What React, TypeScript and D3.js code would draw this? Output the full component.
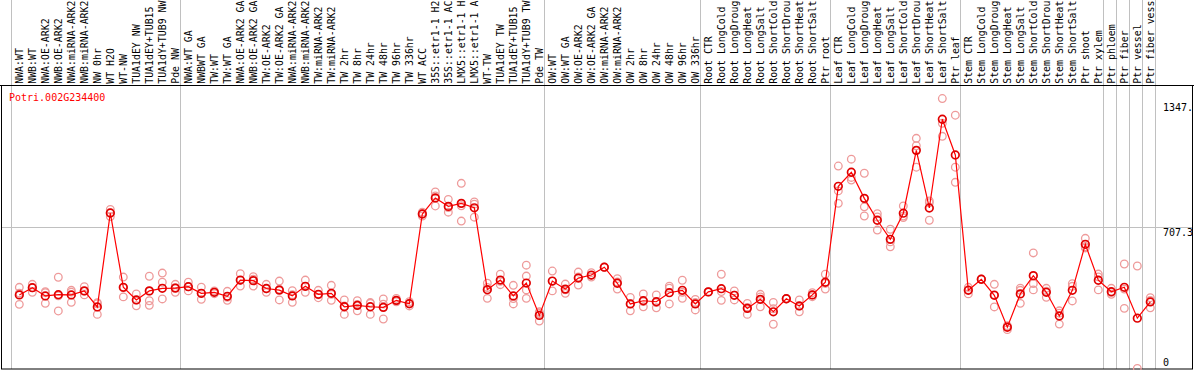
import React from "react";
import * as d3 from "d3";

const title = "Potri.002G234400";

const categories = [
  "NWA:WT", "NWB:WT", "NWA:OE-ARK2", "NWB:OE-ARK2", "NWA:miRNA-ARK2", "NWB:miRNA-ARK2",
  "NW 0hr", "WT H2O", "WT-NW", "TUA1dEY NW", "TUA1dEY+TUB15 NW", "TUA1dY+TUB9 NW", "Pde NW",
  "NWA:WT GA", "NWBWT GA", "TW:WT", "TW:WT GA", "NWA:OE-ARK2 GA", "NWB:OE-ARK2 GA",
  "TW:OE-ARK2", "TW:OE-ARK2 GA", "NWA:miRNA-ARK2 GA", "NWB:miRNA-ARK2 GA", "TW:miRNA-ARK2",
  "TW:miRNA-ARK2 GA", "TW 2hr", "TW 8hr", "TW 24hr", "TW 48hr", "TW 96hr", "TW 336hr", "WT ACC",
  "35S::etr1-1 H2O", "35S::etr1-1 ACC", "LMX5::etr1-1 H2O", "LMX5::etr1-1 ACC", "WT-TW",
  "TUA1dEY TW", "TUA1dEY+TUB15 TW", "TUA1dY+TUB9 TW", "Pde TW",
  "OW:WT", "OW:WT GA", "OW:OE-ARK2", "OW:OE-ARK2 GA", "OW:miRNA-ARK2", "OW:miRNA-ARK2 GA",
  "OW 2hr", "OW 8hr", "OW 24hr", "OW 48hr", "OW 96hr", "OW 336hr",
  "Root CTR", "Root LongCold", "Root LongDrought", "Root LongHeat", "Root LongSalt",
  "Root ShortCold", "Root ShortDrought", "Root ShortHeat", "Root ShortSalt", "Ptr root",
  "Leaf CTR", "Leaf LongCold", "Leaf LongDrought", "Leaf LongHeat", "Leaf LongSalt",
  "Leaf ShortCold", "Leaf ShortDrought", "Leaf ShortHeat", "Leaf ShortSalt", "Ptr leaf",
  "Stem CTR", "Stem LongCold", "Stem LongDrought", "Stem LongHeat", "Stem LongSalt",
  "Stem ShortCold", "Stem ShortDrought", "Stem ShortHeat", "Stem ShortSalt", "Ptr shoot",
  "Ptr xylem", "Ptr phloem", "Ptr fiber", "Ptr vessel", "Ptr fiber vessel",
];

// index of first category of each group (group separators)
const groupStarts = [0, 13, 41, 53, 63, 73, 84, 85, 86, 87, 88];

const means = [
  369, 405, 364, 370, 369, 389, 309, 777, 407, 344, 389, 402, 403,
  410, 377, 382, 362, 443, 440, 401, 393, 364, 412, 372, 377, 310, 317, 310, 307, 342, 325, 772,
  852, 810, 825, 803, 395, 443, 364, 428, 267,
  438, 398, 453, 468, 507, 427, 324, 340, 335, 380, 392, 324,
  384, 400, 367, 302, 347, 285, 350, 314, 369, 432,
  910, 980, 850, 741, 646, 776, 1089, 802, 1244, 1066,
  392, 447, 367, 208, 374, 465, 382, 264, 392, 621, 442,
  385, 407, 253, 334,
];

const rep1 = [
  407, 422, 385, 457, 392, 410, 330, 795, 458, 374, 462, 478, 422,
  432, 408, 389, 387, 475, 460, 422, 438, 390, 443, 392, 417, 344, 340, 327, 349, 352, 335, 781,
  882, 845, 925, 832, 427, 472, 417, 517, 285,
  488, 423, 483, 480, 507, 450, 357, 374, 369, 413, 442, 347,
  384, 472, 389, 327, 372, 332, 350, 344, 380, 472,
  1011, 1045, 975, 774, 696, 812, 1149, 837, 1347.2, 1264,
  407, 447, 422, 216, 403, 578, 402, 290, 425, 651, 473,
  402, 523, 513, 355,
];

const rep2 = [
  322, 382, 327, 289, 332, 369, 272, 759, 359, 315, 317, 432, 382,
  389, 347, 375, 342, 413, 413, 382, 344, 332, 382, 355, 342, 272, 290, 272, 249, 335, 314, 762,
  812, 781, 737, 756, 352, 420, 324, 463, 239,
  389, 377, 418, 458, 507, 398, 290, 310, 305, 324, 352, 294,
  384, 342, 344, 272, 310, 223, 350, 285, 369, 398,
  887, 941, 808, 692, 609, 754, 1112, 741, 1224, 1005,
  374, 447, 309, 196, 327, 425, 357, 224, 339, 609, 394,
  372, 398, 3, 305,
];

const rep3 = [
  378, 405, 380, 364, 383, 388, 325, 777, 404, 343, 388, 349, 405,
  410, 376, 382, 357, 441, 447, 399, 397, 370, 411, 369, 372, 314, 321, 331, 323, 339, 326, 773,
  862, 804, 813, 821, 406, 437, 351, 394, 277,
  437, 394, 458, 466, 507, 433, 325, 336, 331, 403, 382, 331,
  384, 386, 368, 307, 359, 300, 350, 313, 360, 426,
  825, 954, 762, 757, 633, 762, 1005, 828, 1159, 930,
  395, 447, 370, 212, 392, 394, 387, 278, 412, 603, 459,
  381, 302, null, 342,
];

const rep4: (number | null)[] = categories.map((c) =>
  c === "TUA1dEY+TUB15 NW" ? 340 : c === "TUA1dY+TUB9 TW" ? 352 : null
);

const W = 1194;
const H = 370;
const plotLeft = 1.5;
const plotRight = 1192.5;
const plotTop = 85;
const plotBottom = 369;
const colLeft = 11;
const colRight = 1155;
const FONT = "'DejaVu Sans Mono', 'Liberation Mono', monospace";
const LABEL_CHARS = 14;

export default function App() {
  const x = d3.scaleBand<string>().domain(categories).range([colLeft, colRight]).paddingInner(0).paddingOuter(0);
  const bw = x.bandwidth();
  const cx = (c: string) => (x(c) as number) + bw * 0.64;

  const allReps = [...rep1, ...rep2, ...rep3, ...rep4].filter((v) => v != null) as number[];
  const maxVal = d3.max(allReps) as number;
  const yMax = maxVal * 1.05;
  const y = d3.scaleLinear().domain([0, yMax]).range([plotBottom, plotTop]);
  const mid = yMax / 2;

  const line = d3
    .line<number>()
    .x((_, i) => cx(categories[i]))
    .y((d) => y(d));

  const repSets = [rep1, rep2, rep3, rep4];
  const sepXs = groupStarts.map((i) => Math.round(colLeft + i * bw) + 0.5);
  // the right-hand value labels only have room for 5 characters before the frame
  const topLabel = maxVal.toFixed(1).slice(0, 5);
  const midLabel = mid.toFixed(1).slice(0, 5);

  return (
    <svg
      width={W}
      height={H}
      style={{ position: "absolute", left: 0, top: 0, background: "#fff" }}
      fontFamily={FONT}
    >
      <rect x={0} y={0} width={W} height={H} fill="#fff" />
      {/* group separators */}
      {sepXs.map((sx, i) => (
        <line key={"sep" + i} x1={sx} x2={sx} y1={0} y2={plotBottom} stroke="#c0c0c0" strokeWidth={1} />
      ))}
      {/* mid grid line */}
      <line x1={plotLeft} x2={plotRight} y1={Math.round(y(mid)) + 0.5} y2={Math.round(y(mid)) + 0.5} stroke="#c0c0c0" strokeWidth={1} />
      {/* header labels (header column only holds ~14 characters) */}
      {categories.map((c) => (
        <text
          key={"lab" + c}
          transform={`translate(${cx(c) + 3.8},83.8) rotate(-90)`}
          fontSize={9.9}
          fill="#000"
        >
          {c.slice(0, LABEL_CHARS)}
        </text>
      ))}
      {/* frame */}
      <line x1={0} x2={W} y1={plotTop + 0.5} y2={plotTop + 0.5} stroke="#000" strokeWidth={1} />
      <rect
        x={plotLeft}
        y={plotTop + 0.5}
        width={plotRight - plotLeft}
        height={plotBottom - plotTop - 0.5}
        fill="none"
        stroke="#000"
        strokeWidth={1}
      />
      {/* title */}
      <text x={9} y={101} fontSize={10} fill="#ff0000">
        {title}
      </text>
      {/* axis labels */}
      <g fontSize={10} fill="#000">
        <text x={1163} y={y(maxVal) + 12}>{topLabel}</text>
        <text x={1163} y={y(mid) + 9}>{midLabel}</text>
        <text x={1163} y={y(0) - 3}>0</text>
      </g>
      {/* replicates */}
      {repSets.map((rs, ri) =>
        rs.map((v, i) =>
          v == null ? null : (
            <circle
              key={`r${ri}-${i}`}
              cx={cx(categories[i])}
              cy={y(v)}
              r={3.8}
              fill="none"
              stroke="#ee9a9a"
              strokeWidth={1.3}
            />
          )
        )
      )}
      {/* mean line */}
      <path d={line(means) || ""} fill="none" stroke="#ff0000" strokeWidth={1.2} />
      {/* means */}
      {means.map((v, i) => (
        <circle
          key={"m" + i}
          cx={cx(categories[i])}
          cy={y(v)}
          r={3.8}
          fill="none"
          stroke="#e00000"
          strokeWidth={1.7}
        />
      ))}
    </svg>
  );
}
